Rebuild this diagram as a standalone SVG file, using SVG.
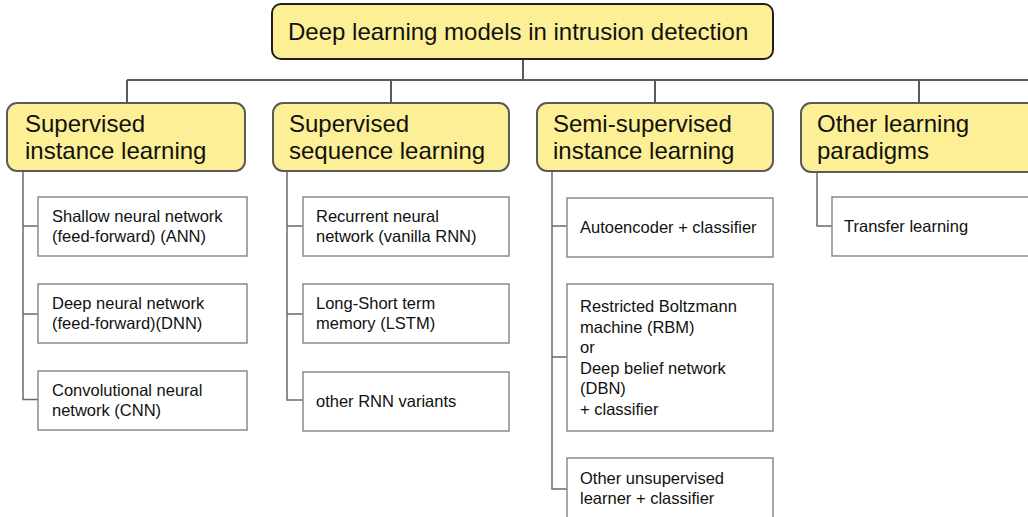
<svg xmlns="http://www.w3.org/2000/svg" width="1028" height="517" viewBox="0 0 1028 517">
  <style>
    .root { fill: #fdef96; stroke: #1f1f1f; stroke-width: 2; }
    .cat { fill: #fdef96; stroke: #5a5a5a; stroke-width: 2; }
    .leaf { fill: #ffffff; stroke: #8a8a8a; stroke-width: 1.5; }
    .trunk { fill: none; stroke: #5a5a5a; stroke-width: 2; }
    .branch { fill: none; stroke: #6a6a6a; stroke-width: 1.5; }
    text { font-family: "Liberation Sans", Arial, sans-serif; fill: #111111; }
    .t-root { font-size: 24px; }
    .t-cat { font-size: 24px; }
    .t-leaf { font-size: 16.5px; }
  </style>
  <rect width="1028" height="517" fill="#ffffff"/>

  <!-- connectors -->
  <g id="connectors">
    <path class="trunk" d="M523 59 V80 M127 80 H1030 M127 80 V103 M391 80 V103 M655 80 V103 M919 80 V103"/>
    <path class="branch" d="M23 171 V399.5 H39 M23 226 H39 M23 314 H39"/>
    <path class="branch" d="M287 171 V400 H303 M287 226 H303 M287 314 H303"/>
    <path class="branch" d="M552 171 V489 H567 M552 226 H567 M552 357 H567"/>
    <path class="branch" d="M817 172 V226 H832"/>
  </g>

  <!-- root -->
  <g id="root">
    <rect class="root" x="272" y="4" width="501" height="55" rx="9"/>
    <text class="t-root" x="288" y="40">Deep learning models in intrusion detection</text>
  </g>

  <!-- categories -->
  <g id="cat-supervised-instance">
    <rect class="cat" x="7" y="103" width="238" height="68" rx="10"/>
    <text class="t-cat" x="25" y="132">Supervised</text>
    <text class="t-cat" x="25" y="159">instance learning</text>
  </g>
  <g id="cat-supervised-sequence">
    <rect class="cat" x="273" y="103" width="236" height="68" rx="10"/>
    <text class="t-cat" x="289" y="132">Supervised</text>
    <text class="t-cat" x="289" y="159">sequence learning</text>
  </g>
  <g id="cat-semi-supervised">
    <rect class="cat" x="537" y="103" width="236" height="68" rx="10"/>
    <text class="t-cat" x="553" y="132">Semi-supervised</text>
    <text class="t-cat" x="553" y="159">instance learning</text>
  </g>
  <g id="cat-other">
    <rect class="cat" x="801" y="103" width="240" height="69" rx="10"/>
    <text class="t-cat" x="817" y="132">Other learning</text>
    <text class="t-cat" x="817" y="159">paradigms</text>
  </g>

  <!-- supervised instance learning -->
  <g id="leaf-ann">
    <rect class="leaf" x="38" y="197" width="209" height="59"/>
    <text class="t-leaf" x="52" y="222">Shallow neural network</text>
    <text class="t-leaf" x="52" y="242">(feed-forward) (ANN)</text>
  </g>
  <g id="leaf-dnn">
    <rect class="leaf" x="38" y="284" width="209" height="59"/>
    <text class="t-leaf" x="52" y="309">Deep neural network</text>
    <text class="t-leaf" x="52" y="329">(feed-forward)(DNN)</text>
  </g>
  <g id="leaf-cnn">
    <rect class="leaf" x="38" y="371" width="209" height="59"/>
    <text class="t-leaf" x="52" y="396">Convolutional neural</text>
    <text class="t-leaf" x="52" y="416">network (CNN)</text>
  </g>

  <!-- supervised sequence learning -->
  <g id="leaf-rnn">
    <rect class="leaf" x="303" y="197" width="206" height="59"/>
    <text class="t-leaf" x="316" y="222">Recurrent neural</text>
    <text class="t-leaf" x="316" y="242">network (vanilla RNN)</text>
  </g>
  <g id="leaf-lstm">
    <rect class="leaf" x="303" y="284" width="206" height="59"/>
    <text class="t-leaf" x="316" y="309">Long-Short term</text>
    <text class="t-leaf" x="316" y="329">memory (LSTM)</text>
  </g>
  <g id="leaf-rnn-variants">
    <rect class="leaf" x="303" y="372" width="206" height="59"/>
    <text class="t-leaf" x="316" y="407">other RNN variants</text>
  </g>

  <!-- semi-supervised instance learning -->
  <g id="leaf-autoencoder">
    <rect class="leaf" x="567" y="198" width="206" height="59"/>
    <text class="t-leaf" x="580" y="233">Autoencoder + classifier</text>
  </g>
  <g id="leaf-rbm-dbn">
    <rect class="leaf" x="567" y="284" width="206" height="147"/>
    <text class="t-leaf" x="580" y="312">Restricted Boltzmann</text>
    <text class="t-leaf" x="580" y="332.6">machine (RBM)</text>
    <text class="t-leaf" x="580" y="353.2">or</text>
    <text class="t-leaf" x="580" y="373.8">Deep belief network</text>
    <text class="t-leaf" x="580" y="394.4">(DBN)</text>
    <text class="t-leaf" x="580" y="415">+ classifier</text>
  </g>
  <g id="leaf-unsupervised">
    <rect class="leaf" x="567" y="458" width="206" height="62"/>
    <text class="t-leaf" x="580" y="484">Other unsupervised</text>
    <text class="t-leaf" x="580" y="504">learner + classifier</text>
  </g>

  <!-- other learning paradigms -->
  <g id="leaf-transfer">
    <rect class="leaf" x="832" y="197" width="210" height="59"/>
    <text class="t-leaf" x="844" y="232">Transfer learning</text>
  </g>
</svg>
